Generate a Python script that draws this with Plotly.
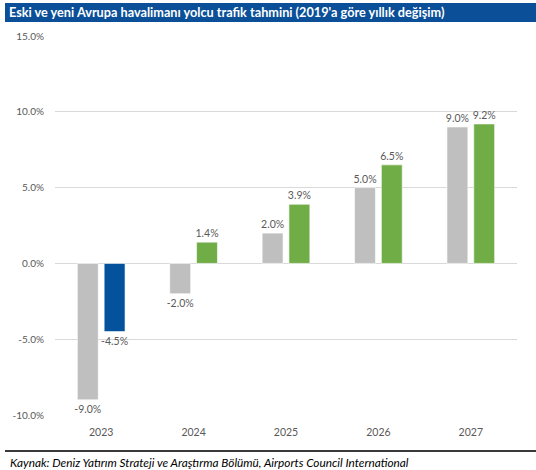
import plotly.graph_objects as go

# Yearly change vs 2019 (%)
years = ["2023", "2024", "2025", "2026", "2027"]
old_forecast = [-9.0, -2.0, 2.0, 5.0, 9.0]
new_forecast = [-4.5, 1.4, 3.9, 6.5, 9.2]
new_colors = ["#03529B", "#70AD47", "#70AD47", "#70AD47", "#70AD47"]
y_ticks = [-10, -5, 0, 5, 10, 15]
y_tick_labels = [f"{v:.1f}%" for v in y_ticks]

title_text = "Eski ve yeni Avrupa havalimanı yolcu trafik tahmini (2019'a göre yıllık değişim)"
source_text = "Kaynak: Deniz Yatırım Strateji ve Araştırma Bölümü, Airports Council International"

W, H = 536, 470
FONT = "Lato"

bar_text = dict(family=FONT, size=10.5, color="#595959")

fig = go.Figure()
fig.add_trace(go.Bar(
    x=years, y=old_forecast, name="Eski",
    marker=dict(color="#BFBFBF", line=dict(color="#FFFFFF", width=0.6)),
    texttemplate="%{y:.1f}%", textposition="outside",
    textfont=bar_text, constraintext="none",
    cliponaxis=False,
))
fig.add_trace(go.Bar(
    x=years, y=new_forecast, name="Yeni",
    marker=dict(color=new_colors, line=dict(color="#FFFFFF", width=0.6)),
    texttemplate="%{y:.1f}%", textposition="outside",
    textfont=bar_text, constraintext="none",
    cliponaxis=False,
))

def px_x(p):
    return p / W

def px_y(p):
    return 1 - p / H

fig.update_layout(
    width=W, height=H,
    margin=dict(l=0, r=0, t=0, b=0, autoexpand=False),
    paper_bgcolor="white", plot_bgcolor="white",
    showlegend=False,
    barmode="group", bargap=0.42, bargroupgap=0.22,
    font=dict(family=FONT, color="#595959"),
    xaxis=dict(
        domain=[px_x(55), px_x(517)],
        showgrid=False, showline=False, zeroline=False,
        ticks="", tickfont=dict(family=FONT, size=10.5, color="#595959"),
        ticklabelstandoff=9, automargin=False,
    ),
    yaxis=dict(
        domain=[px_y(415), px_y(36)],
        range=[-10, 15], tickvals=y_ticks, ticktext=y_tick_labels,
        showgrid=True, gridcolor="#D9D9D9", gridwidth=1,
        zeroline=True, zerolinecolor="#D9D9D9", zerolinewidth=1,
        showline=False, ticks="",
        tickfont=dict(family=FONT, size=10, color="#595959"),
        ticklabelstandoff=10, automargin=False,
    ),
    shapes=[
        dict(type="rect", xref="paper", yref="paper",
             x0=px_x(5), x1=1, y0=px_y(22), y1=px_y(3),
             fillcolor="#0B4F98", line=dict(width=0), layer="below"),
        dict(type="line", xref="paper", yref="paper",
             x0=px_x(5), x1=1, y0=px_y(451), y1=px_y(451),
             line=dict(color="#3A3A3A", width=2)),
    ],
    annotations=[
        dict(text=title_text, xref="paper", yref="paper",
             x=px_x(7), y=px_y(12.5), xanchor="left", yanchor="middle",
             showarrow=False,
             font=dict(family=FONT, size=12.7, color="white", weight="bold")),
        dict(text=source_text, xref="paper", yref="paper",
             x=px_x(8), y=px_y(462), xanchor="left", yanchor="middle",
             showarrow=False,
             font=dict(family=FONT, size=11.8, color="#000000", style="italic")),
    ],
)

fig.write_html("out.html")
